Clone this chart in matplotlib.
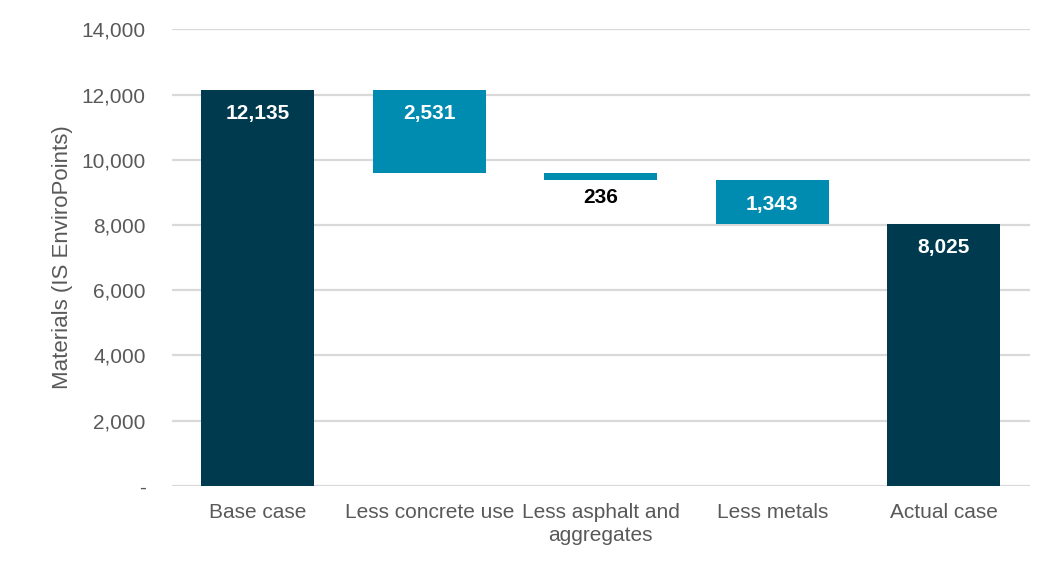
import matplotlib.pyplot as plt
from matplotlib.ticker import FuncFormatter

plt.rcParams['font.family'] = ['Liberation Sans', 'DejaVu Sans']

categories = ["Base case", "Less concrete use", "Less asphalt and\naggregates", "Less metals", "Actual case"]
changes = [12135, -2531, -236, -1343]
total = 8025

# waterfall bottoms/heights
bottoms = []
heights = []
running = 0
for i, c in enumerate(changes):
    if i == 0:
        bottoms.append(0)
        heights.append(c)
        running = c
    else:
        running = running + c
        bottoms.append(running)
        heights.append(-c)
bottoms.append(0)
heights.append(total)

dark = "#003a4f"
teal = "#008bb0"
colors = [dark, teal, teal, teal, dark]

fig = plt.figure(figsize=(10.56, 5.63), dpi=100)
ax = fig.add_axes([0.163, 0.137, 0.812, 0.811])

x = range(len(categories))
ax.bar(x, heights, bottom=bottoms, width=0.66, color=colors, zorder=3)

for i in x:
    top = bottoms[i] + heights[i]
    txt = f"{heights[i]:,}"
    if heights[i] < 500:
        ax.text(i, bottoms[i] - 220, txt, ha="center", va="top", color="black",
                fontsize=15, fontweight="bold", zorder=4)
    else:
        ax.text(i, top - 440, txt, ha="center", va="top", color="white",
                fontsize=15, fontweight="bold", zorder=4)

ax.set_ylim(0, 14000)
ax.set_xlim(-0.5, 4.5)
ax.set_yticks(range(0, 14001, 2000))
ax.yaxis.set_major_formatter(FuncFormatter(lambda v, p: "-" if v == 0 else f"{int(v):,}"))
ax.set_xticks(list(x))
ax.set_xticklabels(categories, linespacing=1.3)
ax.grid(axis="y", color="#d9d9d9", linewidth=1.6, zorder=0)
for s in ax.spines.values():
    s.set_visible(False)
ax.tick_params(length=0, colors="#595959", labelsize=15)
ax.tick_params(axis="y", pad=19)
ax.tick_params(axis="x", pad=12)
ax.set_ylabel("Materials (IS EnviroPoints)", color="#595959", fontsize=16, labelpad=6)

fig.savefig("out.png", dpi=100)
